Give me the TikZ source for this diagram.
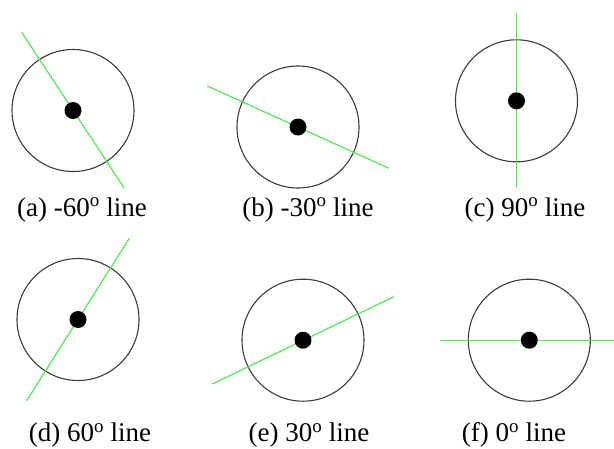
\documentclass[tikz,border=0pt]{standalone}
\usepackage{fontspec}
\setmainfont{Liberation Serif}
\definecolor{lgreen}{RGB}{80,235,80}
\definecolor{ring}{RGB}{60,60,60}
\begin{document}
\begin{tikzpicture}[x=1pt,y=-1pt,
  ringc/.style={circle,draw=ring,line width=1.1pt,minimum size=122pt,inner sep=0pt},
  dotc/.style={circle,fill=black,minimum size=17pt,inner sep=0pt},
  gline/.style={draw=lgreen,line width=1.2pt},
  captext/.style={anchor=base,font=\fontsize{27}{30}\selectfont,inner sep=0pt}]
\useasboundingbox (0,0) rectangle (614,448);
% (a)
\node[ringc] (ca) at (73,110.5) {};
\coordinate (a1) at (21.7,32.3); \coordinate (a2) at (124,187.7);
\draw[gline] (a1) -- (a2);
\node[dotc] (da) at (73,110.5) {};
\node[captext] (la) at (82,216) {(a) -60\textsuperscript{o} line};
% (b)
\node[ringc] (cb) at (298,127) {};
\coordinate (b1) at (207.3,86); \coordinate (b2) at (389,168.3);
\draw[gline] (b1) -- (b2);
\node[dotc] (db) at (298,127) {};
\node[captext] (lb) at (308,216) {(b) -30\textsuperscript{o} line};
% (c)
\node[ringc] (cc) at (516.5,100.8) {};
\coordinate (c1) at (516.5,13.3); \coordinate (c2) at (516.5,187.7);
\draw[gline] (c1) -- (c2);
\node[dotc] (dc) at (516.5,100.8) {};
\node[captext] (lc) at (525,216) {(c) 90\textsuperscript{o} line};
% (d)
\node[ringc] (cd) at (78,319.5) {};
\coordinate (d1) at (26.7,400.7); \coordinate (d2) at (129.3,238.3);
\draw[gline] (d1) -- (d2);
\node[dotc] (dd) at (78,319.5) {};
\node[captext] (ld) at (90,441.5) {(d) 60\textsuperscript{o} line};
% (e)
\node[ringc] (ce) at (303,340.2) {};
\coordinate (e1) at (212.3,384); \coordinate (e2) at (394,296.7);
\draw[gline] (e1) -- (e2);
\node[dotc] (de) at (303,340.2) {};
\node[captext] (le) at (309,441.5) {(e) 30\textsuperscript{o} line};
% (f)
\node[ringc] (cf) at (529.3,340.2) {};
\coordinate (f1) at (440,340.3); \coordinate (f2) at (614,340.3);
\draw[gline] (f1) -- (f2);
\node[dotc] (df) at (529.3,340.2) {};
\node[captext] (lf) at (514,441.5) {(f) 0\textsuperscript{o} line};
\end{tikzpicture}
\end{document}
